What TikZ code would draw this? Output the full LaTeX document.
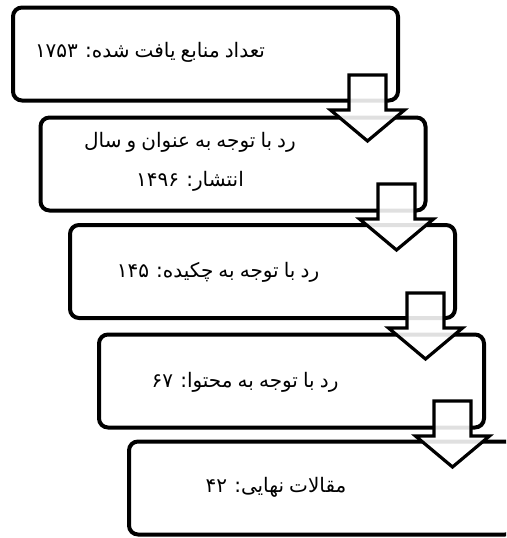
\documentclass[tikz,border=0pt]{standalone}
\usepackage{fontspec}
\newfontfamily\arabicfont[Script=Arabic,WordSpace=0.8]{DejaVu Sans}
\TeXXeTstate=1
\begin{document}
\begin{tikzpicture}[x=1pt,y=-1pt,
  stagebox/.style={draw=black, line width=4pt, rounded corners=9pt, fill=white,
    minimum width=385pt, minimum height=93pt, inner sep=0pt, outer sep=0pt},
  stagetext/.style={font=\arabicfont\fontsize{20}{39}\selectfont, align=center, inner sep=0pt},
  blockarrow/.style={draw=black, line width=3.2pt, fill=white, fill opacity=0.88, miter limit=10}
]
\useasboundingbox (0,0) rectangle (506,538);
\begin{scope}
\clip (0,0) rectangle (506,538);
\node[stagebox] (b1) at (205.5,54) {};
\node[stagebox] (b2) at (233,164) {};
\node[stagebox] (b3) at (262.5,271.5) {};
\node[stagebox] (b4) at (291.5,381) {};
\node[stagebox] (b5) at (321.5,488) {};

\node[stagetext] (t1) at (150,52) {\beginR تعداد منابع یافت شده: \beginL ۱۷۵۳\endL{}\endR};
\node[stagetext] (t2) at (190,162) {\beginR رد با توجه به عنوان و سال\endR\\ \beginR انتشار: \beginL ۱۴۹۶\endL{}\endR};
\node[stagetext] (t3) at (218,272) {\beginR رد با توجه به چکیده: \beginL ۱۴۵\endL{}\endR};
\node[stagetext] (t4) at (245,382) {\beginR رد با توجه به محتوا: \beginL ۶۷\endL{}\endR};
\node[stagetext] (t5) at (276,487) {\beginR مقالات نهایی: \beginL ۴۲\endL{}\endR};

% block arrows between consecutive boxes
\foreach \cx/\ty in {367.5/75, 396.5/184, 425.5/293, 452.5/401}{
  \draw[blockarrow] (\cx-18.5,\ty) -- (\cx+18.5,\ty) -- (\cx+18.5,\ty+35)
    -- (\cx+37,\ty+35) -- (\cx,\ty+66) -- (\cx-37,\ty+35) -- (\cx-18.5,\ty+35) -- cycle;
}
\end{scope}
\end{tikzpicture}
\end{document}
